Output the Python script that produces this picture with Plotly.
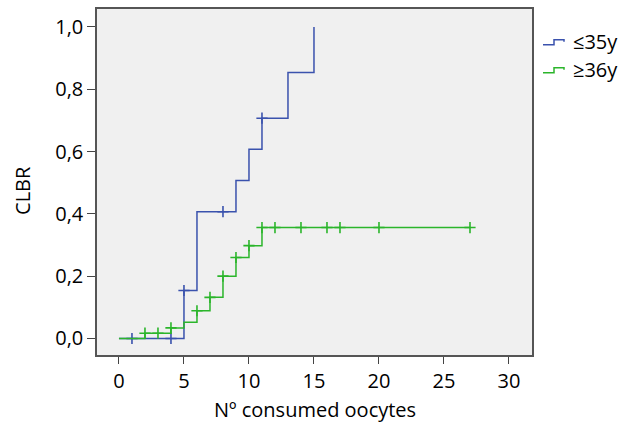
import plotly.graph_objects as go

# Data
young_x = [0, 5, 6, 9, 10, 11, 13, 15]
young_y = [0.0, 0.154, 0.407, 0.507, 0.607, 0.707, 0.854, 1.0]
young_cens_x = [1, 4, 5, 8, 11]
young_cens_y = [0.0, 0.0, 0.154, 0.407, 0.707]

old_x = [0, 2, 4, 5, 6, 7, 8, 9, 10, 11, 27]
old_y = [0.0, 0.017, 0.034, 0.052, 0.089, 0.132, 0.200, 0.260, 0.298, 0.356, 0.356]
old_cens_x = [2, 3, 4, 6, 7, 8, 9, 10, 11, 12, 14, 16, 17, 20, 27]
old_cens_y = [0.017, 0.017, 0.034, 0.089, 0.132, 0.200, 0.260, 0.298, 0.356,
              0.356, 0.356, 0.356, 0.356, 0.356, 0.356]

series_names = ["≤35y", "≥36y"]
x_ticks = [0, 5, 10, 15, 20, 25, 30]
y_ticks = [0.0, 0.2, 0.4, 0.6, 0.8, 1.0]
y_ticklabels = ["0,0", "0,2", "0,4", "0,6", "0,8", "1,0"]

BLUE = "#3a52ad"
GREEN = "#2bb52b"
FONT = "Open Sans"
FS = 20

fig = go.Figure()
for xs, ys, cx, cy, col in [
    (young_x, young_y, young_cens_x, young_cens_y, BLUE),
    (old_x, old_y, old_cens_x, old_cens_y, GREEN),
]:
    fig.add_trace(go.Scatter(x=xs, y=ys, mode="lines", line=dict(shape="hv", color=col, width=1.5),
                             showlegend=False, hoverinfo="skip"))
    fig.add_trace(go.Scatter(x=cx, y=cy, mode="markers",
                             marker=dict(symbol="cross-thin", size=8, line=dict(color=col, width=1.6)),
                             showlegend=False, hoverinfo="skip"))

L, R, T, B = 97, 90, 7, 74
W, H = 622, 429
pw, ph = W - L - R, H - T - B

def px(x):
    return (x - L) / pw

def py(y):
    return (H - B - y) / ph

shapes = []
annotations = []
for i, (name, col) in enumerate(zip(series_names, [BLUE, GREEN])):
    yl = 43 + i * 28
    yu = yl - 5
    shapes.append(dict(type="path", xref="paper", yref="paper",
                       path=f"M {px(543)} {py(yl)} L {px(554)} {py(yl)} L {px(554)} {py(yu)} L {px(564)} {py(yu)} L {px(564)} {py(yu+2)}",
                       line=dict(color=col, width=1.5)))
    annotations.append(dict(x=px(571), y=py(yl - 3), xref="paper", yref="paper", text=name,
                            showarrow=False, xanchor="left", yanchor="middle",
                            font=dict(family=FONT, size=FS, color="black")))

annotations.append(dict(x=0.5, y=py(410), xref="paper", yref="paper", text="Nº consumed oocytes",
                        showarrow=False, xanchor="center", yanchor="middle",
                        font=dict(family=FONT, size=FS, color="black")))
annotations.append(dict(x=px(23), y=py(190), xref="paper", yref="paper", text="CLBR", textangle=-90,
                        showarrow=False, xanchor="center", yanchor="middle",
                        font=dict(family=FONT, size=FS, color="black")))

fig.update_layout(
    width=W, height=H,
    margin=dict(l=L, r=R, t=T, b=B),
    paper_bgcolor="white", plot_bgcolor="#f0f0f0",
    shapes=shapes, annotations=annotations,
    font=dict(family=FONT, size=FS, color="black"),
)
fig.update_xaxes(range=[-1.69, 31.77], tickvals=x_ticks, ticks="outside", ticklen=7, tickcolor="#444",
                 showline=True, linecolor="#555", linewidth=1.5, mirror=True, showgrid=False, zeroline=False,
                 tickfont=dict(family=FONT, size=FS))
fig.update_yaxes(range=[-0.053, 1.0575], tickvals=y_ticks, ticktext=y_ticklabels, ticks="outside", ticklen=8,
                 tickcolor="#444", showline=True, linecolor="#555", linewidth=1.5, mirror=True,
                 showgrid=False, zeroline=False, tickfont=dict(family=FONT, size=FS))

fig.write_html("out.html", config={"displayModeBar": False},
               post_script="document.body.style.margin='0';")
